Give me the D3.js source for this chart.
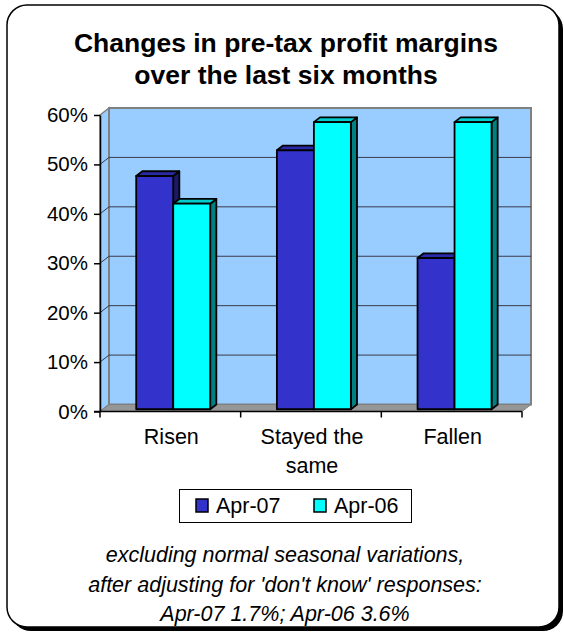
<!DOCTYPE html>
<html>
<head>
<meta charset="utf-8">
<script src="https://cdn.jsdelivr.net/npm/d3@7"></script>
<style>
  html, body { margin: 0; padding: 0; background: #ffffff; }
  svg { display: block; }
  text { font-family: "Liberation Sans", Arial, sans-serif; fill: #000; }
</style>
</head>
<body>
<svg id="chart" width="564" height="638"></svg>
<script>
// ---- data ----
const categories = ["Risen", "Stayed the same", "Fallen"];
const seriesNames = ["Apr-07", "Apr-06"];
const apr07 = [0.472, 0.524, 0.306];
const apr06 = [0.416, 0.581, 0.581];
const yTicks = [0, 0.1, 0.2, 0.3, 0.4, 0.5, 0.6];
const titleLines = ["Changes in pre-tax profit margins", "over the last six months"];
const noteLines = [
  "excluding normal seasonal variations,",
  "after adjusting for 'don't know' responses:",
  "Apr-07 1.7%; Apr-06 3.6%"
];

// ---- styles ----
const fills = {
  "Apr-07": { front: "#3333CC", top: "#2A2AA8", side: "#1A1A66" },
  "Apr-06": { front: "#00FFFF", top: "#00CCCC", side: "#008080" }
};
const wallFill = "#99CCFF";
const floorFill = "#969696";

const svg = d3.select("#chart");

// Frame with drop shadow
svg.append("rect").attr("x", 11).attr("y", 9).attr("width", 552).attr("height", 622)
  .attr("rx", 20).attr("fill", "#000");
svg.append("rect").attr("x", 7).attr("y", 5).attr("width", 552).attr("height", 622)
  .attr("rx", 20).attr("fill", "#fff").attr("stroke", "#000").attr("stroke-width", 1.5);

// Title
const title = svg.append("g");
titleLines.forEach((t, i) => {
  title.append("text").attr("x", 286).attr("y", 52 + i * 31.5)
    .attr("text-anchor", "middle").style("font-weight", "bold").style("font-size", "26.5px")
    .text(t);
});

// ---- scales ----
const x0 = d3.scaleBand().domain(categories).range([100, 522]).paddingInner(0).paddingOuter(0);
const groupW = x0.bandwidth() * 0.526;
const x1 = d3.scaleBand().domain(seriesNames).range([0, groupW]);
const y = d3.scaleLinear().domain([0, 0.6]).range([411.5, 115]);
const depth = { dx: 9, dy: -7 };
const barDepth = [0.32, 1.0];

// project a point (front x, value, depth fraction) onto the page
const proj = (x, v, f) => [x + depth.dx * f, y(v) + depth.dy * f];
const poly = pts => pts.map(p => p.join(",")).join(" ");

const [xL, xR] = x0.range();
const vMax = y.domain()[1];

// Left wall
svg.append("polygon")
  .attr("points", poly([proj(xL, 0, 0), proj(xL, vMax, 0), proj(xL, vMax, 1), proj(xL, 0, 1)]))
  .attr("fill", wallFill).attr("stroke", "#808080").attr("stroke-width", 1.5);
// Back wall
svg.append("polygon")
  .attr("points", poly([proj(xL, 0, 1), proj(xL, vMax, 1), proj(xR, vMax, 1), proj(xR, 0, 1)]))
  .attr("fill", wallFill).attr("stroke", "#808080").attr("stroke-width", 2);
// Floor
svg.append("polygon")
  .attr("points", poly([proj(xL, 0, 0), proj(xR, 0, 0), proj(xR, 0, 1), proj(xL, 0, 1)]))
  .attr("fill", floorFill).attr("stroke", "#808080").attr("stroke-width", 1);

// Gridlines on the walls
const grid = svg.append("g").attr("fill", "none").attr("stroke", "#3A3A4A").attr("stroke-width", 1);
yTicks.filter(t => t > 0 && t < vMax).forEach(t => {
  grid.append("polyline")
    .attr("points", poly([proj(xL, t, 0), proj(xL, t, 1), proj(xR, t, 1)]));
});

// Bars
const rows = categories.map((c, i) => ({ cat: c, values: [
  { key: "Apr-07", v: apr07[i] }, { key: "Apr-06", v: apr06[i] }
]}));
const barsG = svg.append("g").attr("stroke", "#000").attr("stroke-width", 1.8).attr("stroke-linejoin", "round");
rows.forEach(r => {
  const gx = x0(r.cat) + (x0.bandwidth() - groupW) / 2;
  r.values.forEach(d => {
    const a = gx + x1(d.key), b = a + x1.bandwidth();
    const [f0, f1] = barDepth;
    const c = fills[d.key];
    // side face
    barsG.append("polygon").attr("fill", c.side)
      .attr("points", poly([proj(b, d.v, f0), proj(b, d.v, f1), proj(b, 0, f1), proj(b, 0, f0)]));
    // top face
    barsG.append("polygon").attr("fill", c.top)
      .attr("points", poly([proj(a, d.v, f0), proj(b, d.v, f0), proj(b, d.v, f1), proj(a, d.v, f1)]));
    // front face
    barsG.append("polygon").attr("fill", c.front)
      .attr("points", poly([proj(a, 0, f0), proj(a, d.v, f0), proj(b, d.v, f0), proj(b, 0, f0)]));
  });
});

// Value axis
const yAxis = svg.append("g").attr("transform", `translate(${xL},0)`)
  .call(d3.axisLeft(y).tickValues(yTicks).tickFormat(d3.format(".0%")).tickSize(6).tickPadding(6).tickSizeOuter(0));
yAxis.select(".domain").attr("stroke", "#000").attr("stroke-width", 1.5);
yAxis.selectAll(".tick line").attr("stroke", "#000").attr("stroke-width", 1.5);
yAxis.selectAll(".tick text").style("font-size", "20.5px").style("font-family", "'Liberation Sans', Arial, sans-serif");

// Category axis: tick marks at the band edges, labels centred in the bands
const xAxisG = svg.append("g").attr("transform", `translate(0,${y(0)})`);
xAxisG.append("line").attr("x1", xL - 6).attr("x2", xR).attr("stroke", "#000").attr("stroke-width", 1.5);
const edges = categories.map(c => x0(c)).concat([xR]);
xAxisG.selectAll("line.edge").data(edges).join("line").attr("class", "edge")
  .attr("x1", d => d).attr("x2", d => d).attr("y1", 0).attr("y2", 6)
  .attr("stroke", "#000").attr("stroke-width", 1.5);

// wrap category names to the width of a band
const measure = svg.append("text").style("font-size", "21.5px").attr("visibility", "hidden");
function wrap(str, maxW) {
  const words = str.split(" "), lines = [];
  let line = [];
  words.forEach(w => {
    const test = line.concat([w]).join(" ");
    measure.text(test);
    if (line.length && measure.node().getComputedTextLength() > maxW) {
      lines.push(line.join(" ")); line = [w];
    } else line.push(w);
  });
  if (line.length) lines.push(line.join(" "));
  return lines;
}
categories.forEach(c => {
  const cx = x0(c) + x0.bandwidth() / 2 + 1;
  const t = xAxisG.append("text").attr("text-anchor", "middle").style("font-size", "21.5px");
  wrap(c, x0.bandwidth() - 10).forEach((ln, i) => {
    t.append("tspan").attr("x", cx).attr("y", 32.5 + i * 29).text(ln);
  });
});
measure.remove();

// Legend
const lg = svg.append("g");
lg.append("rect").attr("x", 179.5).attr("y", 489.5).attr("width", 232).attr("height", 33)
  .attr("fill", "#fff").attr("stroke", "#000").attr("stroke-width", 1);
const legendX = [196, 314];
seriesNames.forEach((s, i) => {
  lg.append("rect").attr("x", legendX[i]).attr("y", 499).attr("width", 12).attr("height", 13)
    .attr("fill", fills[s].front).attr("stroke", "#000").attr("stroke-width", 1.5);
  lg.append("text").attr("x", legendX[i] + 20).attr("y", 512.5).style("font-size", "21.5px").text(s);
});

// Footnote
noteLines.forEach((t, i) => {
  svg.append("text").attr("x", 285).attr("y", 562 + i * 29.5).attr("text-anchor", "middle")
    .style("font-style", "italic").style("font-size", "21.5px").text(t);
});
</script>
</body>
</html>
